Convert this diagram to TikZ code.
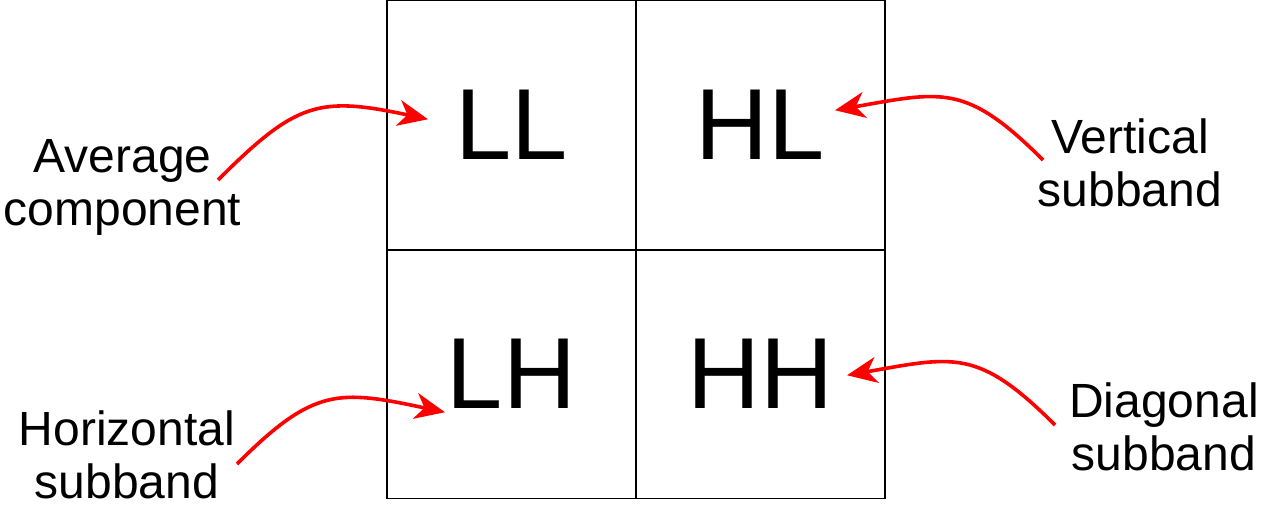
\documentclass[tikz,border=0pt]{standalone}
\usepackage{fontspec}
\setmainfont{Liberation Sans}
\usetikzlibrary{arrows.meta}

\begin{document}
\begin{tikzpicture}[x=1pt,y=1pt,
  cell/.style={draw,line width=1.5pt,minimum size=249pt,inner sep=0pt,font=\fontsize{101}{110}\selectfont},
  lbl/.style={align=center,inner sep=0pt,font=\fontsize{48}{53}\selectfont},
  redarrow/.style={red,line width=3.6pt,-{Stealth[length=30pt,width=26pt,inset=9pt]}}]
\path[use as bounding box] (0,0) rectangle (1261,507);
% the four subbands
\node[cell] (LL) at (511.5,381.75) {LL};
\node[cell] (HL) at (760.5,381.75) {HL};
\node[cell] (LH) at (511.5,133.25) {LH};
\node[cell] (HH) at (760.5,133.25) {HH};
% labels
\node[lbl] (avg) at (122.5,320) {Average\\component};
\node[lbl] (vert) at (1130,344.5) {Vertical\\subband};
\node[lbl] (horiz) at (127,52) {Horizontal\\subband};
\node[lbl] (diag) at (1164,80) {Diagonal\\subband};
% arrows
\draw[redarrow] ([shift={(95.5,7)}]avg.center) to[out=45,in=168,looseness=1.3] ([shift={(-83.5,6)}]LL.center);
\draw[redarrow] ([shift={(-87,2.5)}]vert.center) to[out=135,in=10,looseness=1.3] ([shift={(74.5,15)}]HL.center);
\draw[redarrow] ([shift={(110,-9)}]horiz.center) to[out=45,in=168,looseness=1.3] ([shift={(-66.5,-38.5)}]LH.center);
\draw[redarrow] ([shift={(-109,2)}]diag.center) to[out=135,in=10,looseness=1.3] ([shift={(86.5,-1.5)}]HH.center);
\end{tikzpicture}
\end{document}
